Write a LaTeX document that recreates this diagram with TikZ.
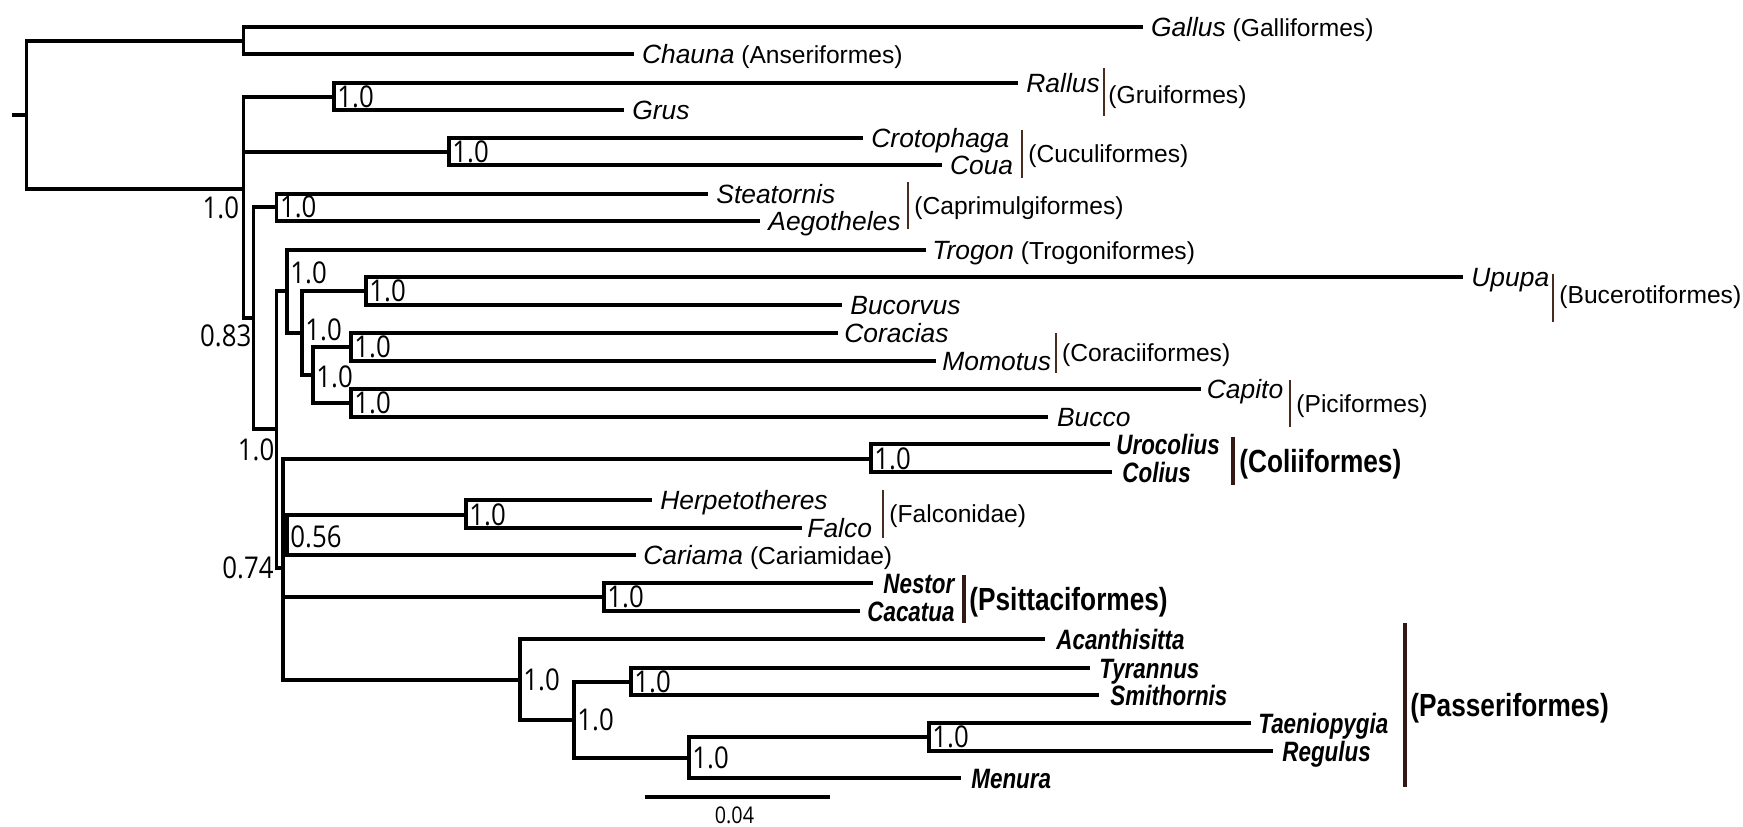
\documentclass[tikz,border=0pt]{standalone}
\usepackage{fontspec}
\setmainfont{Liberation Sans}
\newfontfamily\nbfont[FakeStretch=0.8]{Liberation Sans}
\newfontfamily\gbfont[FakeStretch=0.82]{Liberation Sans}
\newfontfamily\supfont[FakeStretch=0.86]{Open Sans}
\usetikzlibrary{calc}
\definecolor{barthin}{RGB}{75,42,32}
\definecolor{barthick}{RGB}{50,25,20}
\newcommand\GrpTxt[1]{{\fontsize{12.3}{14}\selectfont\upshape #1}}
\begin{document}
\begin{tikzpicture}[x=0.5pt,y=-0.5pt,
  br/.style={line width=1.65pt},
  nm/.style={font=\fontsize{13.2}{15}\selectfont\itshape, inner sep=0pt, anchor=west, text height=9.45pt, text depth=0pt},
  bnm/.style={font=\nbfont\fontsize{14}{16}\selectfont\bfseries\itshape, inner sep=0pt, anchor=west, text height=10pt, text depth=0pt},
  grp/.style={font=\fontsize{12.3}{14}\selectfont, inner sep=0pt, anchor=west, text height=8.8pt, text depth=0pt},
  bgrp/.style={font=\gbfont\fontsize{16}{18}\selectfont\bfseries, inner sep=0pt, anchor=west, text height=11.45pt, text depth=0pt},
  sup/.style={font=\supfont\fontsize{15}{17}\selectfont, inner sep=0pt, anchor=west, text height=10.7pt, text depth=0pt},
  scl/.style={font=\supfont\fontsize{11.5}{13}\selectfont, inner sep=0pt, text height=8.2pt, text depth=0pt},
  tbar/.style={line width=0.8pt, draw=barthin},
  kbar/.style={line width=1.65pt, draw=barthick}]
\useasboundingbox (0,0) rectangle (1743,826);

% internal nodes
\coordinate (stub) at (11.5,115);
\coordinate (root) at (26.4,115);
\coordinate (ngc) at (243.4,41);
\coordinate (nbig) at (243.4,189);
\coordinate (nrg) at (334,97);
\coordinate (ncc) at (449,152);
\coordinate (n083) at (253.7,318);
\coordinate (ncap) at (276.7,207);
\coordinate (nb) at (276.7,429);
\coordinate (ntro) at (287,291);
\coordinate (n302) at (302,333);
\coordinate (nupu) at (366,291);
\coordinate (n313) at (313,375);
\coordinate (ncor) at (351,347);
\coordinate (npic) at (351,403);
\coordinate (n074) at (283,568);
\coordinate (ncol) at (871,459);
\coordinate (n056) at (287,535);
\coordinate (nfal) at (466,515);
\coordinate (npsi) at (604,597);
\coordinate (npas) at (520,680);
\coordinate (n574) at (574,720);
\coordinate (nts) at (631,682);
\coordinate (n689) at (689,758);
\coordinate (ntr) at (929,737);

% tips
\coordinate (gallus) at (1142.6,27);
\coordinate (chauna) at (633.6,54);
\coordinate (rallus) at (1018,83);
\coordinate (grus) at (624,110);
\coordinate (crot) at (863,138);
\coordinate (coua) at (941.6,165);
\coordinate (steat) at (708,194);
\coordinate (aegot) at (760,221);
\coordinate (trogon) at (926,250);
\coordinate (upupa) at (1463,277);
\coordinate (bucorvus) at (842,305);
\coordinate (coracias) at (838,333);
\coordinate (momotus) at (936,361);
\coordinate (capito) at (1200.5,389);
\coordinate (bucco) at (1047.7,417);
\coordinate (urocolius) at (1110,444);
\coordinate (colius) at (1112,472);
\coordinate (herpet) at (652,500);
\coordinate (falco) at (802,528);
\coordinate (cariama) at (636,555);
\coordinate (nestor) at (873,583);
\coordinate (cacatua) at (860,611);
\coordinate (acanth) at (1045,639);
\coordinate (tyrannus) at (1090,668);
\coordinate (smith) at (1099,695);
\coordinate (taenio) at (1251,723);
\coordinate (regulus) at (1273,751);
\coordinate (menura) at (961,778);

% branches
\draw[br] (stub) -- (root);
\draw[br] (root) |- (ngc);  \draw[br] (root) |- (nbig);
\draw[br] (ngc) |- (gallus); \draw[br] (ngc) |- (chauna);
\draw[br] (nbig) |- (nrg); \draw[br] (nbig) |- (ncc); \draw[br] (nbig) |- (n083);
\draw[br] (nrg) |- (rallus); \draw[br] (nrg) |- (grus);
\draw[br] (ncc) |- (crot); \draw[br] (ncc) |- (coua);
\draw[br] (n083) |- (ncap); \draw[br] (n083) |- (nb);
\draw[br] (ncap) |- (steat); \draw[br] (ncap) |- (aegot);
\draw[br] (nb) |- (ntro); \draw[br] (nb) |- (n074);
\draw[br] (ntro) |- (trogon); \draw[br] (ntro) |- (n302);
\draw[br] (n302) |- (nupu); \draw[br] (n302) |- (n313);
\draw[br] (nupu) |- (upupa); \draw[br] (nupu) |- (bucorvus);
\draw[br] (n313) |- (ncor); \draw[br] (n313) |- (npic);
\draw[br] (ncor) |- (coracias); \draw[br] (ncor) |- (momotus);
\draw[br] (npic) |- (capito); \draw[br] (npic) |- (bucco);
\draw[br] (n074) |- (ncol); \draw[br] (n074) |- (n056);
\draw[br] (n074) |- (npsi); \draw[br] (n074) |- (npas);
\draw[br] (ncol) |- (urocolius); \draw[br] (ncol) |- (colius);
\draw[br] (n056) |- (nfal); \draw[br] (n056) |- (cariama);
\draw[br] (nfal) |- (herpet); \draw[br] (nfal) |- (falco);
\draw[br] (npsi) |- (nestor); \draw[br] (npsi) |- (cacatua);
\draw[br] (npas) |- (acanth); \draw[br] (npas) |- (n574);
\draw[br] (n574) |- (nts); \draw[br] (n574) |- (n689);
\draw[br] (nts) |- (tyrannus); \draw[br] (nts) |- (smith);
\draw[br] (n689) |- (ntr); \draw[br] (n689) |- (menura);
\draw[br] (ntr) |- (taenio); \draw[br] (ntr) |- (regulus);

% tip labels
\node[nm] (gallusL) at ([xshift=4pt]gallus) {Gallus\GrpTxt{ (Galliformes)}};
\node[nm] (chaunaL) at ([xshift=4pt]chauna) {Chauna\GrpTxt{ (Anseriformes)}};
\node[nm] (rallusL) at ([xshift=4pt]rallus) {Rallus};
\node[nm] (grusL) at ([xshift=4pt]grus) {Grus};
\node[nm] (crotL) at ([xshift=4pt]crot) {Crotophaga};
\node[nm] (couaL) at ([xshift=4pt]coua) {Coua};
\node[nm] (steatL) at ([xshift=4pt]steat) {Steatornis};
\node[nm] (aegotL) at ([xshift=4pt]aegot) {Aegotheles};
\node[nm] (trogonL) at ([xshift=3pt]trogon) {Trogon\GrpTxt{ (Trogoniformes)}};
\node[nm] (upupaL) at ([xshift=4pt]upupa) {Upupa};
\node[nm] (bucorvusL) at ([xshift=4pt]bucorvus) {Bucorvus};
\node[nm] (coraciasL) at ([xshift=3pt]coracias) {Coracias};
\node[nm] (momotusL) at ([xshift=3pt]momotus) {Momotus};
\node[nm] (capitoL) at ([xshift=3pt]capito) {Capito};
\node[nm] (buccoL) at ([xshift=4.5pt]bucco) {Bucco};
\node[nm] (herpetL) at ([xshift=4pt]herpet) {Herpetotheres};
\node[nm] (falcoL) at ([xshift=2.5pt]falco) {Falco};
\node[nm] (cariamaL) at ([xshift=3.5pt]cariama) {Cariama\GrpTxt{ (Cariamidae)}};
\node[bnm] (urocoliusL) at ([xshift=3pt]urocolius) {Urocolius};
\node[bnm] (coliusL) at ([xshift=5pt]colius) {Colius};
\node[bnm] (nestorL) at ([xshift=5pt]nestor) {Nestor};
\node[bnm] (cacatuaL) at ([xshift=3.5pt]cacatua) {Cacatua};
\node[bnm] (acanthL) at ([xshift=5.5pt]acanth) {Acanthisitta};
\node[bnm] (tyrannusL) at ([xshift=4.5pt]tyrannus) {Tyrannus};
\node[bnm] (smithL) at ([xshift=5.5pt]smith) {Smithornis};
\node[bnm] (taenioL) at ([xshift=3.5pt]taenio) {Taeniopygia};
\node[bnm] (regulusL) at ([xshift=4.5pt]regulus) {Regulus};
\node[bnm] (menuraL) at ([xshift=5pt]menura) {Menura};

% group bars
\coordinate (gruA) at (1104,68);    \coordinate (gruB) at (1104,116);
\coordinate (cucA) at (1022,130);   \coordinate (cucB) at (1022,178);
\coordinate (capA) at (908,182);    \coordinate (capB) at (908,229);
\coordinate (bucA) at (1553,274);   \coordinate (bucB) at (1553,322);
\coordinate (corA) at (1055.7,333); \coordinate (corB) at (1055.7,373);
\coordinate (picA) at (1290,380);   \coordinate (picB) at (1290,427);
\coordinate (falA) at (883,490);    \coordinate (falB) at (883,538);
\coordinate (colA) at (1233,437);   \coordinate (colB) at (1233,485);
\coordinate (psiA) at (964,575);    \coordinate (psiB) at (964,623);
\coordinate (pasA) at (1405,623);   \coordinate (pasB) at (1405,787);
\draw[tbar] (gruA) -- (gruB);
\draw[tbar] (cucA) -- (cucB);
\draw[tbar] (capA) -- (capB);
\draw[tbar] (bucA) -- (bucB);
\draw[tbar] (corA) -- (corB);
\draw[tbar] (picA) -- (picB);
\draw[tbar] (falA) -- (falB);
\draw[kbar] (colA) -- (colB);
\draw[kbar] (psiA) -- (psiB);
\draw[kbar] (pasA) -- (pasB);
\node[grp] (gruL) at ([xshift=2pt,yshift=-1.5pt]$(gruA)!0.5!(gruB)$) {(Gruiformes)};
\node[grp] (cucL) at ([xshift=3pt]$(cucA)!0.5!(cucB)$) {(Cuculiformes)};
\node[grp] (capL) at ([xshift=3pt]$(capA)!0.5!(capB)$) {(Caprimulgiformes)};
\node[grp] (bucL) at ([xshift=3pt,yshift=1.5pt]$(bucA)!0.5!(bucB)$) {(Bucerotiformes)};
\node[grp] (corL) at ([xshift=3pt]$(corA)!0.5!(corB)$) {(Coraciiformes)};
\node[grp] (picL) at ([xshift=3pt]$(picA)!0.5!(picB)$) {(Piciformes)};
\node[grp] (falL) at ([xshift=3pt]$(falA)!0.5!(falB)$) {(Falconidae)};
\node[bgrp] (colL) at ([xshift=3pt]$(colA)!0.5!(colB)$) {(Coliiformes)};
\node[bgrp] (psiL) at ([xshift=2.5pt]$(psiA)!0.5!(psiB)$) {(Psittaciformes)};
\node[bgrp] (pasL) at ([xshift=2.5pt]$(pasA)!0.5!(pasB)$) {(Passeriformes)};

% support values
\node[sup] (lrg) at ([xshift=1.5pt]nrg) {1.0};
\node[sup] (lcc) at ([xshift=1.5pt]ncc) {1.0};
\node[sup] (lcap) at ([xshift=1.5pt]ncap) {1.0};
\node[sup] (ltro) at ([xshift=1.5pt,yshift=9pt]ntro) {1.0};
\node[sup] (l302) at ([xshift=1.5pt,yshift=1.5pt]n302) {1.0};
\node[sup] (lupu) at ([xshift=1.5pt]nupu) {1.0};
\node[sup] (l313) at ([xshift=1.5pt,yshift=-1pt]n313) {1.0};
\node[sup] (lcor) at ([xshift=1.5pt]ncor) {1.0};
\node[sup] (lpic) at ([xshift=1.5pt]npic) {1.0};
\node[sup] (lcol) at ([xshift=1.5pt]ncol) {1.0};
\node[sup] (l056) at ([xshift=1.5pt,yshift=-1pt]n056) {0.56};
\node[sup] (lfal) at ([xshift=1.5pt]nfal) {1.0};
\node[sup] (lpsi) at ([xshift=1.5pt]npsi) {1.0};
\node[sup] (lpas) at ([xshift=1.5pt]npas) {1.0};
\node[sup] (l574) at ([xshift=1.5pt]n574) {1.0};
\node[sup] (lts) at ([xshift=1.5pt]nts) {1.0};
\node[sup] (l689) at ([xshift=1.5pt]n689) {1.0};
\node[sup] (ltr) at ([xshift=1.5pt]ntr) {1.0};
\node[sup, anchor=east] (lbig) at ([xshift=-2pt,yshift=-9.5pt]nbig) {1.0};
\node[sup, anchor=east] (l083) at ([xshift=-1pt,yshift=-9pt]n083) {0.83};
\node[sup, anchor=east] (lb) at ([xshift=-1pt,yshift=-10.5pt]nb) {1.0};
\node[sup, anchor=east] (l074) at ([xshift=-4.5pt]n074) {0.74};

% scale bar
\coordinate (sbL) at (645,797);
\coordinate (sbR) at (830,797);
\draw[br] (sbL) -- (sbR);
\node[scl, anchor=north] (sbT) at ([xshift=-1.5pt,yshift=-5pt]$(sbL)!0.5!(sbR)$) {0.04};
\end{tikzpicture}
\end{document}
